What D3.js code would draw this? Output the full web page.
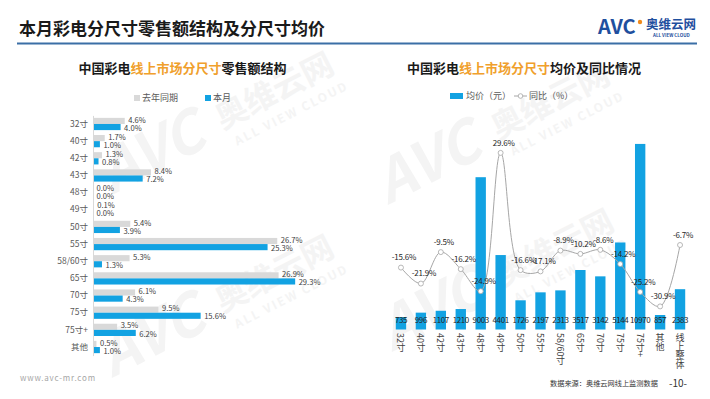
<!DOCTYPE html>
<html>
<head>
<meta charset="utf-8">
<script src="https://cdn.jsdelivr.net/npm/d3@7"></script>
<style>
  html, body { margin: 0; padding: 0; background: #fff; }
  svg text { font-family: "Noto Sans CJK SC", "Noto Sans", sans-serif; }
</style>
</head>
<body>
<div id="chart"></div>
<script>
// left chart: share of online retail sales by size (%)
var sizeCats = ['32寸', '40寸', '42寸', '43寸', '48寸', '49寸', '50寸', '55寸', '58/60寸', '65寸', '70寸', '75寸', '75寸+', '其他'];
var shareLastYear = [4.6, 1.7, 1.3, 8.4, 0.0, 0.1, 5.4, 26.7, 5.3, 26.9, 6.1, 9.5, 3.5, 0.5];
var shareThisMonth = [4.0, 1.0, 0.8, 7.2, 0.0, 0.0, 3.9, 25.3, 1.3, 29.3, 4.3, 15.6, 6.2, 1.0];
var shareSeries = ['去年同期', '本月'];

// right chart: average price (yuan) and yoy change (%)
var priceCats = ['32寸', '40寸', '42寸', '43寸', '48寸', '49寸', '50寸', '55寸', '58/60寸', '65寸', '70寸', '75寸', '75寸+', '其他', '线上整体'];
var avgPrice = [735, 996, 1107, 1210, 9003, 4401, 1726, 2197, 2313, 3517, 3142, 5144, 10970, 857, 2383];
var priceYoy = [-15.6, -21.9, -9.5, -16.2, -24.9, 29.6, -16.6, -17.1, -8.9, -10.2, -8.6, -14.2, -25.2, -30.9, -6.7];

var W = 710, H = 399;
var BLUE = '#12a2e2', GREY = '#d9d9d9', ORANGE = '#f0a02c';

var svg = d3.select('#chart').append('svg')
  .attr('width', W).attr('height', H)
  .attr('viewBox', '0 0 ' + W + ' ' + H);

// faint watermarks
function watermark(x, y) {
  var g = svg.append('g').attr('transform', 'translate(' + x + ',' + y + ') rotate(-27)').attr('fill', '#f4f4f4');
  g.append('text').attr('font-size', 58).attr('font-weight', 700).attr('font-style', 'italic').attr('font-family', 'Liberation Sans, sans-serif').text('AVC');
  g.append('text').attr('x', 128).attr('y', -8).attr('font-size', 32).attr('font-weight', 700).text('奥维云网');
  g.append('text').attr('x', 134).attr('y', 13).attr('font-size', 12).attr('font-weight', 700).attr('letter-spacing', 2).text('ALL VIEW CLOUD');
}
watermark(112, 195);
watermark(112, 378);
watermark(388, 205);
watermark(392, 352);

// header
svg.append('text').attr('x', 19).attr('y', 35).attr('font-size', 17).attr('font-weight', 700).attr('fill', '#1a1a1a')
  .text('本月彩电分尺寸零售额结构及分尺寸均价');
svg.append('line').attr('x1', 17).attr('x2', 697).attr('y1', 43.5).attr('y2', 43.5)
  .attr('stroke', '#3b6fa6').attr('stroke-width', 2);

var logo = svg.append('g').attr('transform', 'translate(598,34)');
logo.append('text').attr('font-size', 20).attr('font-weight', 700)
  .attr('font-family', 'Liberation Sans, sans-serif').attr('fill', '#1f4f9e').text('AVC');
logo.append('circle').attr('cx', 42).attr('cy', -12).attr('r', 2.2).attr('fill', '#f08a1c');
logo.append('text').attr('x', 48).attr('y', -5).attr('font-size', 12.5).attr('font-weight', 700).attr('fill', '#1f4f9e').text('奥维云网');
logo.append('text').attr('x', 55).attr('y', 3).attr('font-size', 4.5).attr('font-weight', 700).attr('fill', '#1f4f9e').text('ALL VIEW CLOUD');

// chart titles with orange highlight
function chartTitle(cx, parts) {
  var t = svg.append('text').attr('x', cx).attr('y', 73).attr('text-anchor', 'middle')
    .attr('font-size', 13).attr('font-weight', 700).attr('fill', '#1a1a1a');
  parts.forEach(function (p) { t.append('tspan').attr('fill', p[1]).text(p[0]); });
}
chartTitle(182.5, [['中国彩电', '#1a1a1a'], ['线上市场分尺寸', ORANGE], ['零售额结构', '#1a1a1a']]);
chartTitle(524, [['中国彩电', '#1a1a1a'], ['线上市场分尺寸', ORANGE], ['均价及同比情况', '#1a1a1a']]);

// ---- left: horizontal grouped bars
var yBand = d3.scaleBand().domain(sizeCats).range([115.4, 355.6]);
var yInner = d3.scaleBand().domain(shareSeries).range([0, yBand.bandwidth()]).paddingOuter(0.4);
var xShare = d3.scaleLinear().domain([0, 30]).range([93, 300]);
var shareColor = { '去年同期': GREY, '本月': BLUE };

var rows = sizeCats.map(function (c, i) {
  return { cat: c, values: [{ key: '去年同期', v: shareLastYear[i] }, { key: '本月', v: shareThisMonth[i] }] };
});

var left = svg.append('g');
var rowG = left.selectAll('.row').data(rows).join('g')
  .attr('transform', function (d) { return 'translate(0,' + yBand(d.cat) + ')'; });

rowG.selectAll('rect').data(function (d) { return d.values; }).join('rect')
  .attr('x', xShare(0))
  .attr('y', function (d) { return yInner(d.key); })
  .attr('width', function (d) { return xShare(d.v) - xShare(0); })
  .attr('height', yInner.bandwidth())
  .attr('fill', function (d) { return shareColor[d.key]; });

rowG.selectAll('.val').data(function (d) { return d.values; }).join('text')
  .attr('class', 'val')
  .attr('x', function (d) { return xShare(d.v) + 3.5; })
  .attr('y', function (d, i) { return yInner(d.key) + yInner.bandwidth() / 2 + (i ? 1 : -1); })
  .attr('dy', '0.35em')
  .attr('font-size', 7.6)
  .attr('fill', '#404040')
  .text(function (d) { return d.v.toFixed(1) + '%'; });

left.append('g')
  .attr('transform', 'translate(' + xShare(0) + ',0)')
  .call(d3.axisLeft(yBand).tickSize(0).tickPadding(5))
  .call(function (g) { g.select('.domain').attr('stroke', '#d9d9d9'); })
  .call(function (g) { g.selectAll('text').attr('font-size', 8.5).attr('fill', '#595959').attr('font-family', '"Noto Sans CJK SC", sans-serif'); });

// left legend
shareSeries.forEach(function (key, i) {
  var lx = [134, 205][i];
  svg.append('rect').attr('x', lx).attr('y', 95).attr('width', 6).attr('height', 6).attr('fill', shareColor[key]);
  svg.append('text').attr('x', lx + 8).attr('y', 98).attr('dy', '0.35em').attr('font-size', 9).attr('fill', '#595959').text(key);
});

// ---- right: price bars + yoy line
var xPrice = d3.scaleBand().domain(priceCats).range([391, 690]).paddingInner(0.48).paddingOuter(0.24);
var yPrice = d3.scaleLinear().domain([0, 12000]).range([329.5, 126.5]);
var yYoy = d3.scaleLinear().domain([-40, 40]).range([329.5, 126.5]);

var priceData = priceCats.map(function (c, i) { return { cat: c, price: avgPrice[i], yoy: priceYoy[i] }; });
var right = svg.append('g');

right.selectAll('.bar').data(priceData).join('rect')
  .attr('class', 'bar')
  .attr('x', function (d) { return xPrice(d.cat); })
  .attr('y', function (d) { return yPrice(d.price); })
  .attr('width', xPrice.bandwidth())
  .attr('height', function (d) { return yPrice(0) - yPrice(d.price); })
  .attr('fill', BLUE);

right.selectAll('.pval').data(priceData).join('text')
  .attr('class', 'pval')
  .attr('x', function (d) { return xPrice(d.cat) + xPrice.bandwidth() / 2; })
  .attr('y', 320.5)
  .attr('dy', '0.35em')
  .attr('text-anchor', 'middle')
  .attr('font-size', 8)
  .attr('letter-spacing', -0.4)
  .attr('fill', '#262626')
  .text(function (d) { return d.price; });

var cx = function (d) { return xPrice(d.cat) + xPrice.bandwidth() / 2; };
var line = d3.line().x(cx).y(function (d) { return yYoy(d.yoy); }).curve(d3.curveCatmullRom.alpha(0.5));
right.append('path').datum(priceData)
  .attr('fill', 'none').attr('stroke', '#a6a6a6').attr('stroke-width', 1).attr('d', line);

right.selectAll('.pt').data(priceData).join('circle')
  .attr('class', 'pt')
  .attr('cx', cx)
  .attr('cy', function (d) { return yYoy(d.yoy); })
  .attr('r', 2.5)
  .attr('fill', '#fff')
  .attr('stroke', '#a6a6a6')
  .attr('stroke-width', 0.8);

right.selectAll('.yv').data(priceData).join('text')
  .attr('class', 'yv')
  .attr('x', function (d) { return cx(d) + 3; })
  .attr('y', function (d) { return yYoy(d.yoy) - 10; })
  .attr('dy', '0.35em')
  .attr('text-anchor', 'middle')
  .attr('font-size', 8)
  .attr('letter-spacing', -0.2)
  .attr('fill', '#262626')
  .text(function (d) { return d.yoy.toFixed(1) + '%'; });

// vertical category labels
right.selectAll('.xl').data(priceCats).join('text')
  .attr('class', 'xl')
  .attr('x', function (d) { return xPrice(d) + xPrice.bandwidth() / 2; })
  .attr('y', 333)
  .attr('font-size', 9)
  .attr('fill', '#404040')
  .style('writing-mode', 'vertical-rl')
  .style('text-orientation', 'mixed')
  .text(function (d) { return d; });

// right legend
svg.append('rect').attr('x', 450).attr('y', 93).attr('width', 13).attr('height', 6).attr('fill', BLUE);
svg.append('text').attr('x', 466).attr('y', 96).attr('dy', '0.35em').attr('font-size', 9).attr('fill', '#595959').text('均价（元）');
svg.append('line').attr('x1', 514).attr('x2', 527).attr('y1', 96).attr('y2', 96).attr('stroke', '#a6a6a6').attr('stroke-width', 1);
svg.append('circle').attr('cx', 520.5).attr('cy', 96).attr('r', 2.3).attr('fill', '#fff').attr('stroke', '#a6a6a6').attr('stroke-width', 0.8);
svg.append('text').attr('x', 529).attr('y', 96).attr('dy', '0.35em').attr('font-size', 9).attr('fill', '#595959').text('同比（%）');

// footer
svg.append('text').attr('x', 20).attr('y', 378).attr('dy', '0.35em').attr('font-size', 8).attr('letter-spacing', 0.8)
  .attr('fill', '#a6a6a6').attr('font-family', 'DejaVu Sans Mono, monospace').text('www.avc-mr.com');
svg.append('text').attr('x', 550).attr('y', 383).attr('dy', '0.35em').attr('font-size', 7.2).attr('fill', '#333').text('数据来源：奥维云网线上监测数据');
svg.append('text').attr('x', 669).attr('y', 383).attr('dy', '0.35em').attr('font-size', 10).attr('fill', '#333').text('-10-');
</script>
</body>
</html>
